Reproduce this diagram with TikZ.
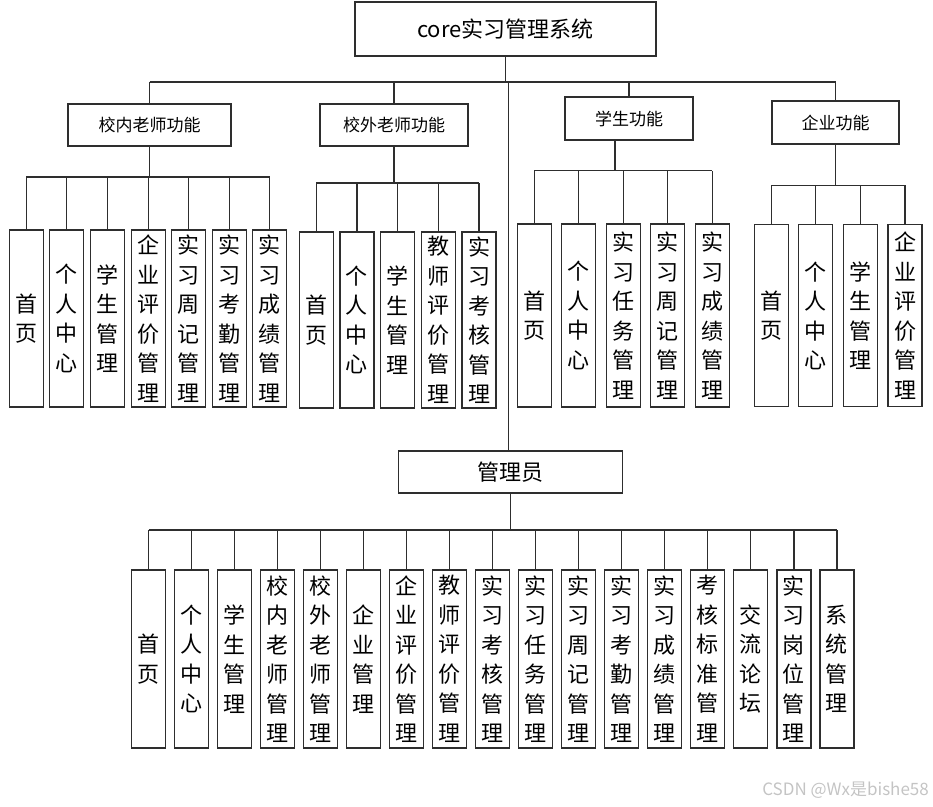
\documentclass[tikz,border=0pt]{standalone}
\usepackage{fontspec}
\setmainfont{Noto Sans CJK SC}
\definecolor{ln}{HTML}{2E2E2E}
\definecolor{wm}{HTML}{C4C4C4}
\begin{document}
\begin{tikzpicture}[x=1pt,y=-1pt,
  bx/.style={draw=ln,line width=1.1pt,inner sep=0pt,align=center},
  topbox/.style={bx,font=\fontsize{22}{26}\selectfont},
  midbox/.style={bx,font=\fontsize{17}{20}\selectfont,minimum height=42pt},
  leaf/.style={bx,minimum width=34pt,font=\fontsize{22}{29.5}\selectfont},
  conn/.style={draw=ln,line width=1.1pt}]
\useasboundingbox (0,0) rectangle (933,806);

% root
\node[topbox,minimum width=301pt,minimum height=54pt] (root) at (505.5,29) {core实习管理系统};
\node[midbox,minimum width=163pt] (s1) at (149.5,125) {校内老师功能};
\node[midbox,minimum width=148pt] (s2) at (394,125) {校外老师功能};
\node[midbox,minimum width=128pt,minimum height=43pt] (s3) at (629,118.5) {学生功能};
\node[midbox,minimum width=127pt,minimum height=43pt] (s4) at (835.5,122.5) {企业功能};
\node[topbox,minimum width=224pt,minimum height=42pt] (adm) at (510.5,472) {管理员};

% bus coordinates
\coordinate (bt) at (0,82);
\coordinate (b1) at (0,177);
\coordinate (b2) at (0,183);
\coordinate (b3) at (0,170.7);
\coordinate (b4) at (0,185.3);
\coordinate (ba) at (0,530);

% group 1
\foreach \t [count=\i from 0] in {{首\\页},{个\\人\\中\\心},{学\\生\\管\\理},{企\\业\\评\\价\\管\\理},{实\\习\\周\\记\\管\\理},{实\\习\\考\\勤\\管\\理},{实\\习\\成\\绩\\管\\理}}
  \node[leaf,minimum height=177pt] (g1n\i) at ({26.3+40.6*\i},318.5) {\t};
% group 2
\foreach \t [count=\i from 0] in {{首\\页},{个\\人\\中\\心},{学\\生\\管\\理},{教\\师\\评\\价\\管\\理},{实\\习\\考\\核\\管\\理}}
  \node[leaf,minimum height=176pt] (g2n\i) at ({316.3+40.675*\i},320) {\t};
% group 3
\foreach \t [count=\i from 0] in {{首\\页},{个\\人\\中\\心},{实\\习\\任\\务\\管\\理},{实\\习\\周\\记\\管\\理},{实\\习\\成\\绩\\管\\理}}
  \node[leaf,minimum height=183pt] (g3n\i) at ({534.3+44.5*\i},315.5) {\t};
% group 4
\foreach \t [count=\i from 0] in {{首\\页},{个\\人\\中\\心},{学\\生\\管\\理},{企\\业\\评\\价\\管\\理}}
  \node[leaf,minimum height=182pt] (g4n\i) at ({771.3+44.57*\i},315.8) {\t};
% admin
\foreach \t [count=\i from 0] in {{首\\页},{个\\人\\中\\心},{学\\生\\管\\理},{校\\内\\老\\师\\管\\理},{校\\外\\老\\师\\管\\理},{企\\业\\管\\理},{企\\业\\评\\价\\管\\理},{教\\师\\评\\价\\管\\理},{实\\习\\考\\核\\管\\理},{实\\习\\任\\务\\管\\理},{实\\习\\周\\记\\管\\理},{实\\习\\考\\勤\\管\\理},{实\\习\\成\\绩\\管\\理},{考\\核\\标\\准\\管\\理},{交\\流\\论\\坛},{实\\习\\岗\\位\\管\\理},{系\\统\\管\\理}}
  \node[leaf,minimum height=178pt] (an\i) at ({148.5+43.03*\i},659) {\t};

% top level connectors
\draw[conn] (root.south) -- (root.south |- bt);
\draw[conn] (s1.north |- bt) -- (s4.north |- bt);
\foreach \s in {s1,s2,s3,s4} \draw[conn] (\s.north) -- (\s.north |- bt);
\draw[conn] ([xshift=-2.2pt]adm.north) -- ([xshift=-2.2pt]adm.north |- bt);

% group 1 connectors
\draw[conn] (s1.south) -- (s1.south |- b1);
\draw[conn] (g1n0.north |- b1) -- (g1n6.north |- b1);
\foreach \i in {0,...,6} \draw[conn] (g1n\i.north) -- (g1n\i.north |- b1);
% group 2
\draw[conn] (s2.south) -- (s2.south |- b2);
\draw[conn] (g2n0.north |- b2) -- (g2n4.north |- b2);
\foreach \i in {0,...,4} \draw[conn] (g2n\i.north) -- (g2n\i.north |- b2);
% group 3
\draw[conn] ([xshift=-14pt]s3.south) -- ([xshift=-14pt]s3.south |- b3);
\draw[conn] (g3n0.north |- b3) -- (g3n4.north |- b3);
\foreach \i in {0,...,4} \draw[conn] (g3n\i.north) -- (g3n\i.north |- b3);
% group 4
\draw[conn] (s4.south) -- (s4.south |- b4);
\draw[conn] (g4n0.north |- b4) -- (g4n3.north |- b4);
\foreach \i in {0,...,3} \draw[conn] (g4n\i.north) -- (g4n\i.north |- b4);
% admin
\draw[conn] (adm.south) -- (adm.south |- ba);
\draw[conn] (an0.north |- ba) -- (an16.north |- ba);
\foreach \i in {0,...,16} \draw[conn] (an\i.north) -- (an\i.north |- ba);

% watermark
\node[text=wm,font=\fontsize{17}{20}\selectfont,anchor=east,inner sep=0pt] (wmk) at (929,790) {CSDN @Wx是bishe58};
\end{tikzpicture}
\end{document}
